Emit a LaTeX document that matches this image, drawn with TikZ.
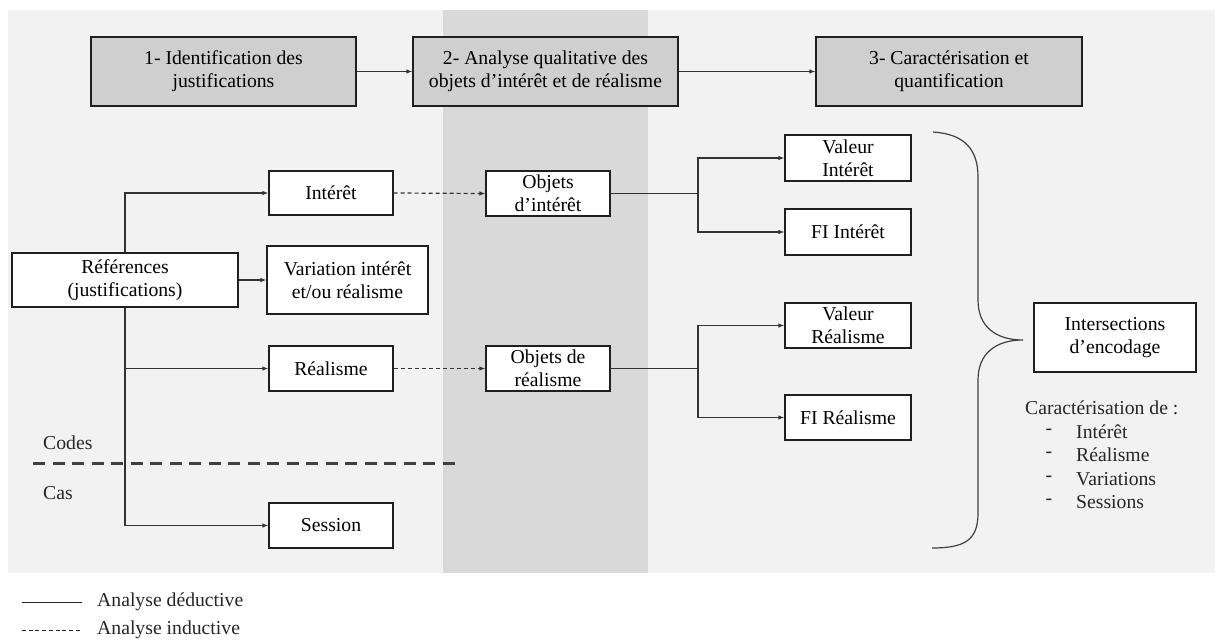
\documentclass[tikz,border=0pt]{standalone}
\usepackage{fontspec}
\setmainfont{Liberation Serif}
\usetikzlibrary{arrows.meta}
\definecolor{bglight}{HTML}{F2F2F2}
\definecolor{bgdark}{HTML}{D9D9D9}
\definecolor{hfill}{HTML}{CFCFCF}
\definecolor{boxline}{HTML}{1F1F1F}
\definecolor{lineclr}{HTML}{333333}
\definecolor{codeline}{HTML}{404040}
\newcommand\mainsize{\fontsize{19.7}{23}\selectfont}
\tikzset{
  box/.style={draw=boxline, line width=1.2pt, fill=white, inner sep=0pt, align=center, font=\mainsize},
  hbox/.style={box, fill=hfill},
  plain/.style={draw=lineclr, line width=1.2pt},
  conn/.style={plain, -{Latex[length=6pt,width=4.5pt]}},
  dconn/.style={conn, dash pattern=on 4pt off 3pt},
  lbl/.style={inner sep=0pt, font=\mainsize, text=black!85},
}
\begin{document}
\begin{tikzpicture}[x=1pt,y=-1pt]
\useasboundingbox (0,0) rectangle (1215,643);
% backgrounds
\fill[bglight] (8,10) rectangle (1215,573);
\fill[bgdark] (443,10) rectangle (648,573);

% header boxes
\node[hbox, minimum width=265pt, minimum height=69pt] (h1) at (223.5,71.5) {1- Identification des\\justifications};
\node[hbox, minimum width=265pt, minimum height=69pt] (h2) at (545.5,71.5) {2- Analyse qualitative des\\objets d’intérêt et de réalisme};
\node[hbox, minimum width=266pt, minimum height=69pt] (h3) at (949,71.5) {3- Caractérisation et\\quantification};
\draw[conn] (h1.east) -- (h2.west);
\draw[conn] (h2.east) -- (h3.west);

% left column
\node[box, minimum width=226pt, minimum height=54pt] (ref) at (125,280) {Références\\(justifications)};
\node[box, minimum width=124pt, minimum height=44pt] (int) at (331,193) {Intérêt};
\node[box, minimum width=161pt, minimum height=68pt] (var) at (347.5,280) {Variation intérêt\\et/ou réalisme};
\node[box, minimum width=124pt, minimum height=45pt] (real) at (331,368.5) {Réalisme};
\node[box, minimum width=124pt, minimum height=45pt] (sess) at (331,525.5) {Session};

\draw[conn] (ref.north) |- (int.west);
\draw[conn] (ref.east) -- (var.west);
\draw[conn] (ref.south) |- (real.west);
\draw[conn] (ref.south) |- (sess.west);

% codes / cas
\node[lbl, anchor=west] (codes) at (43,443) {Codes};
\node[lbl, anchor=west] (cas) at (43,493) {Cas};
\coordinate (dl1) at (33,463);
\coordinate (dl2) at (462,463);
\draw[codeline, line width=3pt, dash pattern=on 12pt off 7.5pt] (dl1) -- (dl2);

% middle column
\node[box, minimum width=124pt, minimum height=45pt] (oi) at (548,193.5) {Objets\\d’intérêt};
\node[box, minimum width=124pt, minimum height=45pt] (or) at (548,368.5) {Objets de\\réalisme};
\draw[dconn] (int.east) -- (oi.west);
\draw[dconn] (real.east) -- (or.west);

% right column
\node[box, minimum width=126pt, minimum height=46pt] (vi) at (848,158) {Valeur\\Intérêt};
\node[box, minimum width=126pt, minimum height=46pt] (fi) at (848,232) {FI Intérêt};
\node[box, minimum width=126pt, minimum height=45pt] (vr) at (848,325.5) {Valeur\\Réalisme};
\node[box, minimum width=126pt, minimum height=45pt] (fr) at (848,417.5) {FI Réalisme};

\coordinate (ji) at (698,193.5);
\coordinate (jr) at (698,368.5);
\draw[plain] (oi.east) -- (ji);
\draw[conn] (ji) |- (vi.west);
\draw[conn] (ji) |- (fi.west);
\draw[plain] (or.east) -- (jr);
\draw[conn] (jr) |- (vr.west);
\draw[conn] (jr) |- (fr.west);

% brace
\draw[codeline, line width=1.2pt] (933,132) .. controls (965,134) and (978,150) .. (978,177)
  -- (978,300) .. controls (978,326) and (995,340) .. (1023,340)
  .. controls (995,340) and (978,354) .. (978,380)
  -- (978,513) .. controls (978,540) and (965,548) .. (932,548);

\node[box, minimum width=162pt, minimum height=69pt] (inter) at (1115,337.5) {Intersections\\d’encodage};

\node[lbl, anchor=west] (car) at (1025,408) {Caractérisation de :};
\node[lbl] (d1) at (1049,432) {-};
\node[lbl] (d2) at (1049,455) {-};
\node[lbl] (d3) at (1049,479) {-};
\node[lbl] (d4) at (1049,502) {-};
\node[lbl, anchor=west] (c1) at (1076,432) {Intérêt};
\node[lbl, anchor=west] (c2) at (1076,455) {Réalisme};
\node[lbl, anchor=west] (c3) at (1076,479) {Variations};
\node[lbl, anchor=west] (c4) at (1076,502) {Sessions};

% legend
\coordinate (la1) at (22,602);
\coordinate (lb1) at (82,602);
\coordinate (la2) at (22,630);
\coordinate (lb2) at (82,630);
\draw[black!85, line width=1pt] (la1) -- (lb1);
\draw[black!85, line width=0.9pt, dash pattern=on 4pt off 2.7pt] (la2) -- (lb2);
\node[lbl, anchor=west] (ld) at (97,602) {Analyse déductive};
\node[lbl, anchor=west] (li) at (97,630) {Analyse inductive};
\end{tikzpicture}
\end{document}
